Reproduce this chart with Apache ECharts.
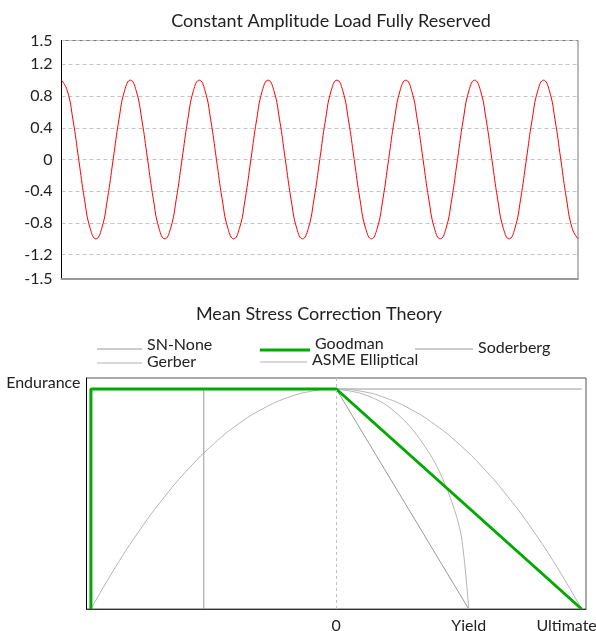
<!DOCTYPE html>
<html>
<head>
<meta charset="utf-8">
<script src="https://cdn.jsdelivr.net/npm/echarts@6/dist/echarts.min.js"></script>
<style>
html, body { margin: 0; padding: 0; background: #fff; }
#chart { width: 596px; height: 631px; }
</style>
</head>
<body>
<div id="chart"></div>
<script>
// load signal, 12 samples per cycle, 7.5 cycles
let loadSamples = [
    1, 0.87, 0.5, 0, -0.5, -0.87, -1, -0.87, -0.5, 0, 0.5, 0.87,
    1, 0.87, 0.5, 0, -0.5, -0.87, -1, -0.87, -0.5, 0, 0.5, 0.87,
    1, 0.87, 0.5, 0, -0.5, -0.87, -1, -0.87, -0.5, 0, 0.5, 0.87,
    1, 0.87, 0.5, 0, -0.5, -0.87, -1, -0.87, -0.5, 0, 0.5, 0.87,
    1, 0.87, 0.5, 0, -0.5, -0.87, -1, -0.87, -0.5, 0, 0.5, 0.87,
    1, 0.87, 0.5, 0, -0.5, -0.87, -1, -0.87, -0.5, 0, 0.5, 0.87,
    1, 0.87, 0.5, 0, -0.5, -0.87, -1, -0.87, -0.5, 0, 0.5, 0.87,
    1, 0.87, 0.5, 0, -0.5, -0.87, -1
];
let loadTicks = [-1.5, -1.2, -0.8, -0.4, 0, 0.4, 0.8, 1.2, 1.5];

// mean stress diagram, [mean stress, alternating stress], ultimate = 1, endurance = 1
let snNone = [[-1, 1], [1, 1]];
let goodman = [[-1, 0], [-1, 1], [0, 1], [1, 0]];
let soderberg = [[-0.54, 0], [-0.54, 1], [0, 1], [0.54, 0]];
let gerber = [
    [-1, 0], [-0.9, 0.19], [-0.8, 0.36], [-0.7, 0.51], [-0.6, 0.64], [-0.5, 0.75],
    [-0.4, 0.84], [-0.3, 0.91], [-0.2, 0.96], [-0.1, 0.99], [0, 1],
    [0.1, 0.99], [0.2, 0.96], [0.3, 0.91], [0.4, 0.84], [0.5, 0.75],
    [0.6, 0.64], [0.7, 0.51], [0.8, 0.36], [0.9, 0.19], [1, 0]
];
let asmeElliptical = [[0, 1], [0.1, 0.98], [0.2, 0.93], [0.3, 0.83], [0.4, 0.67], [0.47, 0.49], [0.51, 0.33], [0.54, 0]];
let stressTicks = [0, 0.54, 1];
let stressTickNames = ['0', 'Yield', 'Ultimate'];
let enduranceTicks = [1];

let fontName = 'Lato';
let chart = echarts.init(document.getElementById('chart'));

// one legend per entry so the two rows line up in columns like the original
function legendItem(name, left, lineY, width, lineWidth, textLift) {
    return {
        data: [name],
        left: left,
        top: lineY - 9 - textLift,
        padding: 0,
        icon: 'rect',
        itemWidth: width,
        itemHeight: lineWidth,
        selectedMode: false,
        formatter: '{t|{name}}',
        textStyle: {
            fontFamily: fontName,
            fontSize: 16,
            color: '#222',
            rich: {
                t: {fontFamily: fontName, fontSize: 16, color: '#222', padding: [0, 0, textLift * 2, 0]}
            }
        }
    };
}

let option = {
    animation: false,
    backgroundColor: '#fff',
    title: [{
        text: 'Constant Amplitude Load Fully Reserved',
        left: 326,
        top: 7,
        textAlign: 'center',
        textStyle: {fontFamily: fontName, fontSize: 18, fontWeight: 'normal', color: '#222'}
    }, {
        text: 'Mean Stress Correction Theory',
        left: 314,
        top: 300,
        textAlign: 'center',
        textStyle: {fontFamily: fontName, fontSize: 18, fontWeight: 'normal', color: '#222'}
    }],
    legend: [
        legendItem('SN-None', 97, 350, 45, 1, 4),
        legendItem('Goodman', 260, 351, 50, 3, 6),
        legendItem('Soderberg', 415, 350, 58, 1, 1),
        legendItem('Gerber', 97, 364, 45, 1, 1),
        legendItem('ASME Elliptical', 260, 363, 47, 1, 2)
    ],
    grid: [{
        left: 61.5,
        top: 40.5,
        width: 516.5,
        height: 238,
        outerBoundsMode: 'none',
        show: true,
        borderColor: '#777',
        borderWidth: 1
    }, {
        left: 86.5,
        top: 378,
        width: 499.5,
        height: 231,
        outerBoundsMode: 'none',
        show: true,
        borderColor: '#555',
        borderWidth: 1
    }],
    xAxis: [{
        gridIndex: 0,
        type: 'category',
        boundaryGap: false,
        data: loadSamples.map(function (v, i) { return i; }),
        axisLine: {onZero: false, lineStyle: {color: '#999', width: 2}},
        axisTick: {show: false},
        axisLabel: {show: false},
        splitLine: {show: false}
    }, {
        gridIndex: 1,
        type: 'value',
        min: -1.018,
        max: 1.018,
        axisLine: {onZero: false, lineStyle: {color: '#333', width: 1}},
        axisTick: {show: false},
        splitLine: {show: false},
        axisLabel: {
            customValues: stressTicks,
            margin: 9,
            fontFamily: fontName,
            fontSize: 16,
            color: '#222',
            formatter: function (value) {
                let i = stressTicks.indexOf(value);
                if (i === 2) {
                    return '{u|' + stressTickNames[i] + '}';
                }
                return i < 0 ? '' : stressTickNames[i];
            },
            rich: {
                u: {fontFamily: fontName, fontSize: 16, color: '#222', padding: [0, 30, 0, 0]}
            }
        }
    }],
    yAxis: [{
        gridIndex: 0,
        type: 'value',
        min: -1.5,
        max: 1.5,
        axisLine: {show: true, onZero: false, lineStyle: {color: '#000', width: 1}},
        axisTick: {show: false, customValues: loadTicks},
        axisLabel: {
            customValues: loadTicks,
            margin: 9,
            fontFamily: fontName,
            fontSize: 16,
            color: '#222'
        },
        splitLine: {show: true, lineStyle: {color: '#c4c4c4', type: [4, 3], width: 1}}
    }, {
        gridIndex: 1,
        type: 'value',
        min: 0,
        max: 1.05,
        axisLine: {show: true, onZero: false, lineStyle: {color: '#000', width: 1}},
        axisTick: {show: false, customValues: enduranceTicks},
        splitLine: {show: false},
        axisLabel: {
            customValues: enduranceTicks,
            margin: 6,
            fontFamily: fontName,
            fontSize: 16,
            color: '#222',
            formatter: function () { return '{e|Endurance}'; },
            rich: {
                e: {fontFamily: fontName, fontSize: 16, color: '#222', padding: [0, 0, 12, 0]}
            }
        }
    }],
    series: [{
        name: 'load',
        type: 'line',
        xAxisIndex: 0,
        yAxisIndex: 0,
        data: loadSamples,
        smooth: true,
        symbol: 'none',
        lineStyle: {color: '#ff0000', width: 1}
    }, {
        name: 'SN-None',
        type: 'line',
        xAxisIndex: 1,
        yAxisIndex: 1,
        data: snNone,
        symbol: 'none',
        color: '#999',
        lineStyle: {color: '#999', width: 1},
        markLine: {
            silent: true,
            symbol: 'none',
            label: {show: false},
            lineStyle: {color: '#c0c0c0', type: [3, 3], width: 1},
            data: [{xAxis: 0}]
        }
    }, {
        name: 'Gerber',
        type: 'line',
        xAxisIndex: 1,
        yAxisIndex: 1,
        data: gerber,
        smooth: true,
        symbol: 'none',
        color: '#b4b4b4',
        lineStyle: {color: '#b4b4b4', width: 1}
    }, {
        name: 'Soderberg',
        type: 'line',
        xAxisIndex: 1,
        yAxisIndex: 1,
        data: soderberg,
        symbol: 'none',
        color: '#999',
        lineStyle: {color: '#999', width: 1}
    }, {
        name: 'ASME Elliptical',
        type: 'line',
        xAxisIndex: 1,
        yAxisIndex: 1,
        data: asmeElliptical,
        smooth: 0.3,
        symbol: 'none',
        color: '#b4b4b4',
        lineStyle: {color: '#b4b4b4', width: 1}
    }, {
        name: 'Goodman',
        type: 'line',
        xAxisIndex: 1,
        yAxisIndex: 1,
        data: goodman,
        symbol: 'none',
        color: '#00aa00',
        lineStyle: {color: '#00aa00', width: 3}
    }]
};
chart.setOption(option);
</script>
</body>
</html>
